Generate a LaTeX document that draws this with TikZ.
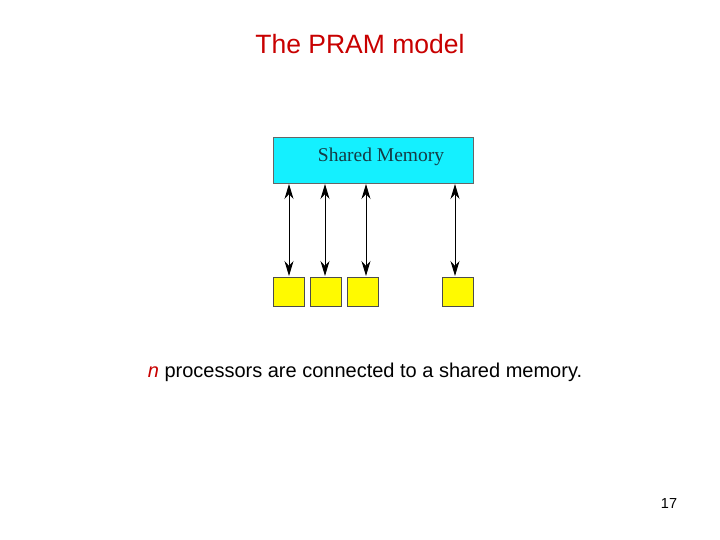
\documentclass[tikz,border=0pt]{standalone}
\usepackage{fontspec}
\setmainfont{Liberation Sans}
\newfontfamily\serif{Liberation Serif}
\usetikzlibrary{arrows.meta}
\definecolor{memcyan}{RGB}{20,240,255}
\definecolor{procyel}{RGB}{255,250,0}
\definecolor{titlered}{RGB}{200,0,0}
\definecolor{memtext}{RGB}{20,60,70}
\begin{document}
\begin{tikzpicture}[x=1pt,y=-1pt,
  proc/.style={draw=black!70,fill=procyel,minimum width=31pt,minimum height=29pt,inner sep=0pt,anchor=north west},
  link/.style={{Stealth[length=15pt,width=9pt]}-{Stealth[length=15pt,width=9pt]},line width=0.9pt,shorten <=1pt,shorten >=1pt}]
\useasboundingbox (0,0) rectangle (720,540);
\node[titlered,font=\fontsize{26.5}{30}\selectfont] (title) at (360,44) {The PRAM model};
\node[draw=black!60,fill=memcyan,minimum width=200pt,minimum height=46pt,inner sep=0pt,anchor=north west] (mem) at (273,137) {};
\node[memtext,font=\serif\fontsize{19.5}{22}\selectfont] (memlbl) at (381,157) {Shared Memory};
\node[proc] (p1) at (273,277) {};
\node[proc] (p2) at (310,277) {};
\node[proc] (p3) at (347,277) {};
\node[proc] (p4) at (442,277) {};
\foreach \p/\x in {p1/289,p2/325,p3/366,p4/455}{
  \coordinate (t\p) at (\x,183);
  \coordinate (b\p) at (\x,277);
  \draw[link] (t\p) -- (b\p);
}
\node[font=\fontsize{20}{24}\selectfont] (cap) at (365,372) {{\color{titlered}\itshape n} processors are connected to a shared memory.};
\node[font=\fontsize{14.5}{17}\selectfont] (pg) at (669,504) {17};
\end{tikzpicture}
\end{document}
